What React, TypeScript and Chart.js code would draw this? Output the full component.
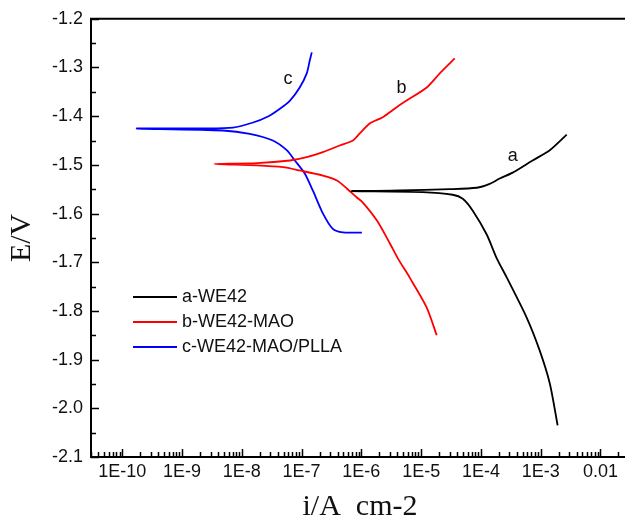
import React, { useEffect, useRef } from 'react';
import { Chart, registerables } from 'chart.js';

Chart.register(...registerables);

// ---- data (current density in A/cm2, potential in V), path order: cathodic end -> Ecorr -> anodic end
const seriesLabels = ['a-WE42', 'b-WE42-MAO', 'c-WE42-MAO/PLLA'];
const seriesColors = ['#000000', '#ff0000', '#0000ff'];

const aCurrent = [1.92e-3, 1.42e-3, 9.6e-4, 5.8e-4, 2.7e-4, 1.84e-4, 1.25e-4, 7.3e-5, 4.97e-5, 3.37e-5, 1.06e-5, 6.9e-7,
  4.4e-6, 3.0e-5, 8.5e-5, 1.4e-4, 2.06e-4, 3.4e-4, 7.3e-4, 1.42e-3, 2.72e-3];
const aPotential = [-2.035, -1.949, -1.881, -1.813, -1.731, -1.692, -1.643, -1.594, -1.5696, -1.5614, -1.556, -1.554,
  -1.5526, -1.550, -1.547, -1.539, -1.528, -1.516, -1.491, -1.470, -1.438];

const bCurrent = [1.82e-5, 1.24e-5, 6.4e-6, 4.07e-6, 2.99e-6, 1.81e-6, 1.05e-6, 8.4e-7, 5.7e-7, 3.9e-7, 2.27e-7, 9.3e-8, 4.9e-8, 1.78e-8, 3.5e-9,
  1.78e-8, 6.4e-8, 1.22e-7, 2.27e-7, 4.35e-7, 7.2e-7, 9.4e-7, 1.38e-6, 2.28e-6, 3.9e-6, 5.7e-6, 1.24e-5, 2.05e-5, 3.65e-5];
const bPotential = [-1.850, -1.793, -1.731, -1.692, -1.661, -1.614, -1.577, -1.567, -1.5485, -1.532, -1.522, -1.5115, -1.5047, -1.501, -1.498,
  -1.4965, -1.491, -1.4842, -1.4739, -1.4602, -1.4499, -1.4355, -1.415, -1.402, -1.3815, -1.368, -1.341, -1.312, -1.2815];

const cCurrent = [1.02e-6, 4.9e-7, 3.3e-7, 2.27e-7, 1.54e-7, 1.13e-7, 7.7e-8, 5.7e-8, 3.3e-8, 1.36e-8, 4.8e-9, 1.75e-10,
  2.4e-9, 7.1e-9, 1.5e-8, 2.8e-8, 4.4e-8, 6.4e-8, 9.3e-8, 1.22e-7, 1.37e-7, 1.48e-7];
const cPotential = [-1.639, -1.6388, -1.631, -1.5998, -1.5526, -1.5177, -1.491, -1.4704, -1.450, -1.4362, -1.4294, -1.4253,
  -1.4253, -1.4235, -1.4135, -1.4000, -1.3842, -1.368, -1.341, -1.312, -1.2856, -1.269];

const curveTags = ['a', 'b', 'c'];
const tagCurrent = [3.4e-4, 4.7e-6, 5.9e-8];
const tagPotential = [-1.481, -1.343, -1.323];

const xTickValues = [1e-10, 1e-9, 1e-8, 1e-7, 1e-6, 1e-5, 1e-4, 1e-3, 1e-2];
const xTickLabels = ['1E-10', '1E-9', '1E-8', '1E-7', '1E-6', '1E-5', '1E-4', '1E-3', '0.01'];
const yTickValues = [-2.1, -2.0, -1.9, -1.8, -1.7, -1.6, -1.5, -1.4, -1.3, -1.2];
const yTickLabels = ['-2.1', '-2.0', '-1.9', '-1.8', '-1.7', '-1.6', '-1.5', '-1.4', '-1.3', '-1.2'];

const xMin = 3e-11;
const xMax = 0.03;
const yMin = -2.1;
const yMax = -1.2;

const xTitle = 'i/A  cm-2';
const yTitle = 'E/V';

const SANS = '"Liberation Sans", Arial, sans-serif';
const SERIF = '"Liberation Serif", "Times New Roman", serif';

function toPoints(xs: number[], ys: number[]) {
  return xs.map((v, i) => ({ x: v, y: ys[i] }));
}

const framePlugin = {
  id: 'frame',
  afterDatasetsDraw(chart: any) {
    const { ctx, chartArea } = chart;
    const { left, right, top, bottom } = chartArea;
    const xs = chart.scales.x;
    const ys = chart.scales.y;
    ctx.save();
    // frame
    ctx.strokeStyle = '#000';
    ctx.lineWidth = 2;
    ctx.beginPath();
    ctx.moveTo(left, top);
    ctx.lineTo(right, top);
    ctx.lineTo(right, bottom);
    ctx.lineTo(left, bottom);
    ctx.closePath();
    ctx.stroke();
    // inward ticks on x (log: 1..9 per decade)
    ctx.lineWidth = 1.5;
    ctx.beginPath();
    for (let e = -12; e <= -1; e++) {
      for (let m = 1; m <= 9; m++) {
        const v = m * Math.pow(10, e);
        if (v < xMin * 0.999 || v > xMax * 1.001) continue;
        const px = Math.round(xs.getPixelForValue(v)) + 0.5;
        ctx.moveTo(px, bottom);
        ctx.lineTo(px, bottom - (m === 1 ? 8 : 5));
      }
    }
    // inward ticks on y
    const steps = Math.round((yMax - yMin) / 0.05);
    for (let k = 0; k <= steps; k++) {
      const v = yMin + k * 0.05;
      const py = Math.round(ys.getPixelForValue(v)) + 0.5;
      ctx.moveTo(left, py);
      ctx.lineTo(left + (k % 2 === 0 ? 8 : 5), py);
    }
    ctx.stroke();

    // legend
    ctx.font = '18px ' + SANS;
    ctx.textAlign = 'left';
    ctx.textBaseline = 'middle';
    seriesLabels.forEach((lab, i) => {
      const yy = 297 + i * 25;
      ctx.strokeStyle = seriesColors[i];
      ctx.lineWidth = 2;
      ctx.beginPath();
      ctx.moveTo(133, yy);
      ctx.lineTo(177, yy);
      ctx.stroke();
      ctx.fillStyle = '#111';
      ctx.fillText(lab, 182, yy);
    });

    // curve tags
    ctx.textAlign = 'center';
    curveTags.forEach((t, i) => {
      ctx.fillText(t, xs.getPixelForValue(tagCurrent[i]), ys.getPixelForValue(tagPotential[i]));
    });
    ctx.restore();
  },
};

export default function App() {
  const ref = useRef<HTMLCanvasElement | null>(null);
  useEffect(() => {
    if (!ref.current) return;
    const series = [
      toPoints(aCurrent, aPotential),
      toPoints(bCurrent, bPotential),
      toPoints(cCurrent, cPotential),
    ];
    const chart = new Chart(ref.current, {
      type: 'scatter',
      data: {
        datasets: series.map((pts, i) => ({
          label: seriesLabels[i],
          data: pts,
          showLine: true,
          borderColor: seriesColors[i],
          backgroundColor: seriesColors[i],
          borderWidth: 1.8,
          pointRadius: 0,
          tension: 0.25,
          fill: false,
        })),
      },
      options: {
        responsive: false,
        animation: false,
        devicePixelRatio: 1,
        layout: { padding: { top: 18, right: 11, left: 0, bottom: 0 } },
        plugins: { legend: { display: false }, tooltip: { enabled: false } },
        scales: {
          x: {
            type: 'logarithmic',
            min: xMin,
            max: xMax,
            grid: { display: false, drawTicks: false },
            border: { display: false },
            afterBuildTicks: (scale: any) => {
              scale.ticks = xTickValues.map((v) => ({ value: v }));
            },
            afterFit: (scale: any) => {
              scale.height = 63;
            },
            ticks: {
              autoSkip: false,
              maxRotation: 0,
              padding: 4,
              color: '#111',
              font: { family: SANS, size: 18 },
              callback: (_v: any, i: number) => xTickLabels[i],
            },
            title: {
              display: true,
              text: xTitle,
              color: '#111',
              font: { family: SERIF, size: 30, lineHeight: 1.2 },
              padding: { top: 0, bottom: -5 },
            },
          },
          y: {
            type: 'linear',
            min: yMin,
            max: yMax,
            grid: { display: false, drawTicks: false },
            border: { display: false },
            afterBuildTicks: (scale: any) => {
              scale.ticks = yTickValues.map((v) => ({ value: v }));
            },
            afterFit: (scale: any) => {
              scale.width = 91;
            },
            ticks: {
              padding: 8,
              color: '#111',
              font: { family: SANS, size: 18 },
              callback: (_v: any, i: number) => yTickLabels[i],
            },
            title: {
              display: true,
              text: yTitle,
              color: '#111',
              font: { family: SERIF, size: 30, lineHeight: 1.2 },
              padding: { top: 4, bottom: 0 },
            },
          },
        },
      },
      plugins: [framePlugin],
    } as any);
    return () => chart.destroy();
  }, []);

  return (
    <div style={{ position: 'fixed', left: 0, top: 0, width: 625, height: 520, overflow: 'hidden', background: '#fff' }}>
      <canvas ref={ref} width={640} height={520} style={{ display: 'block', width: 640, height: 520 }} />
    </div>
  );
}
